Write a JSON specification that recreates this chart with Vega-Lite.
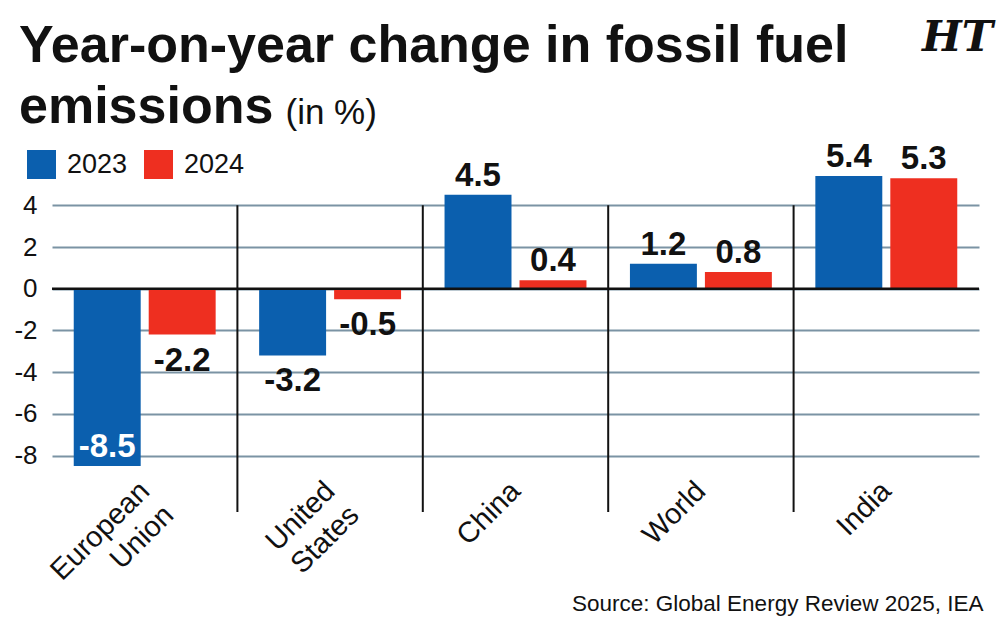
{
  "$schema": "https://vega.github.io/schema/vega-lite/v6.json",
  "width": 927,
  "height": 292,
  "autosize": "none",
  "padding": {"left": 52, "top": 174, "right": 21, "bottom": 161},
  "background": "#ffffff",
  "config": {"view": {"stroke": null}},
  "title": {
    "text": ["Year-on-year change in fossil fuel", "emissions"],
    "anchor": "start",
    "frame": "group",
    "font": "Liberation Sans",
    "fontSize": 52,
    "fontWeight": "bold",
    "color": "#111111",
    "lineHeight": 61,
    "dx": -33,
    "dy": 137,
    "offset": 20
  },
  "datasets": {
    "emissions": [
      {"region": "European Union", "year": "2023", "value": -8.5},
      {"region": "European Union", "year": "2024", "value": -2.2},
      {"region": "United States", "year": "2023", "value": -3.2},
      {"region": "United States", "year": "2024", "value": -0.5},
      {"region": "China", "year": "2023", "value": 4.5},
      {"region": "China", "year": "2024", "value": 0.4},
      {"region": "World", "year": "2023", "value": 1.2},
      {"region": "World", "year": "2024", "value": 0.8},
      {"region": "India", "year": "2023", "value": 5.4},
      {"region": "India", "year": "2024", "value": 5.3}
    ],
    "dividers": [
      {"region": "United States"},
      {"region": "China"},
      {"region": "World"},
      {"region": "India"}
    ],
    "brand": [{"name": "HT"}]
  },
  "layer": [
    {
      "data": {"name": "emissions"},
      "mark": {"type": "bar"},
      "encoding": {
        "x": {
          "field": "region",
          "type": "nominal",
          "scale": {
            "domain": ["European Union", "United States", "China", "World", "India"],
            "paddingInner": 0,
            "paddingOuter": 0
          },
          "axis": {
            "title": "Source: Global Energy Review 2025, IEA",
            "titleX": 931,
            "titleY": 144,
            "titleAlign": "right",
            "titleBaseline": "alphabetic",
            "titleFont": "Liberation Sans",
            "titleFontSize": 22.5,
            "titleFontWeight": "normal",
            "titleColor": "#111111",
            "labelAngle": -45,
            "labelAlign": "right",
            "labelBaseline": "middle",
            "labelPadding": 20,
            "labelFont": "Liberation Sans",
            "labelFontSize": 29,
            "labelColor": "#111111",
            "labelLineHeight": 34,
            "labelExpr": "split(datum.value, ' ')",
            "domain": false,
            "ticks": false,
            "grid": false
          }
        },
        "xOffset": {
          "field": "year",
          "type": "nominal",
          "scale": {"paddingInner": 0.107, "paddingOuter": 0.29}
        },
        "y": {
          "field": "value",
          "type": "quantitative",
          "scale": {"domain": [-8.5, 5.5], "nice": false, "zero": false},
          "axis": {
            "values": [-8, -6, -4, -2, 0, 2, 4],
            "labelExpr": "'' + datum.value",
            "grid": true,
            "gridColor": "#7b93a4",
            "gridWidth": 2,
            "domain": false,
            "ticks": false,
            "labelFont": "Liberation Sans",
            "labelFontSize": 26,
            "labelColor": "#111111",
            "labelPadding": 15,
            "title": "(in %)",
            "titleAngle": 0,
            "titleX": 233,
            "titleY": -51,
            "titleAlign": "left",
            "titleBaseline": "alphabetic",
            "titleFont": "Liberation Sans",
            "titleFontSize": 35,
            "titleFontWeight": "normal",
            "titleColor": "#111111"
          }
        },
        "color": {
          "field": "year",
          "type": "nominal",
          "scale": {"domain": ["2023", "2024"], "range": ["#0b5fae", "#ee2f20"]},
          "legend": {
            "orient": "none",
            "legendX": -25,
            "legendY": -24,
            "direction": "horizontal",
            "title": null,
            "symbolType": "square",
            "symbolSize": 841,
            "symbolStrokeWidth": 0,
            "symbolOpacity": 1,
            "labelFont": "Liberation Sans",
            "labelFontSize": 27,
            "labelColor": "#111111",
            "labelOffset": 11,
            "columnPadding": 16,
            "padding": 0
          }
        }
      }
    },
    {
      "data": {"name": "dividers"},
      "mark": {"type": "rule", "color": "#111111", "strokeWidth": 2},
      "encoding": {
        "x": {"field": "region", "type": "nominal", "bandPosition": 0},
        "y": {"datum": 4},
        "y2": {"datum": -10.7}
      }
    },
    {
      "data": {"values": [{"level": 0}]},
      "mark": {"type": "rule", "color": "#111111", "strokeWidth": 2.5},
      "encoding": {"y": {"field": "level", "type": "quantitative"}}
    },
    {
      "data": {"name": "emissions"},
      "transform": [{"filter": "datum.value >= 0"}],
      "mark": {"type": "text", "font": "Liberation Sans", "fontWeight": "bold", "fontSize": 33, "baseline": "alphabetic", "dy": -9, "color": "#111111"},
      "encoding": {
        "x": {"field": "region", "type": "nominal"},
        "xOffset": {"field": "year", "type": "nominal"},
        "y": {"field": "value", "type": "quantitative"},
        "text": {"field": "value", "type": "nominal"}
      }
    },
    {
      "data": {"name": "emissions"},
      "transform": [{"filter": "datum.value < 0 && datum.value > -8"}],
      "mark": {"type": "text", "font": "Liberation Sans", "fontWeight": "bold", "fontSize": 33, "baseline": "top", "dy": 10, "color": "#111111"},
      "encoding": {
        "x": {"field": "region", "type": "nominal"},
        "xOffset": {"field": "year", "type": "nominal"},
        "y": {"field": "value", "type": "quantitative"},
        "text": {"field": "value", "type": "nominal"}
      }
    },
    {
      "data": {"name": "emissions"},
      "transform": [{"filter": "datum.value <= -8"}],
      "mark": {"type": "text", "font": "Liberation Sans", "fontWeight": "bold", "fontSize": 33, "baseline": "bottom", "dy": -2, "color": "#ffffff"},
      "encoding": {
        "x": {"field": "region", "type": "nominal"},
        "xOffset": {"field": "year", "type": "nominal"},
        "y": {"field": "value", "type": "quantitative"},
        "text": {"field": "value", "type": "nominal"}
      }
    },
    {
      "data": {"name": "brand"},
      "mark": {"type": "text", "font": "DejaVu Serif", "fontWeight": "bold", "fontStyle": "italic", "fontSize": 42, "align": "right", "baseline": "alphabetic", "dx": 14, "color": "#111111"},
      "encoding": {
        "x": {"datum": "India", "bandPosition": 1},
        "y": {"datum": 11.4},
        "text": {"field": "name"}
      }
    }
  ]
}
